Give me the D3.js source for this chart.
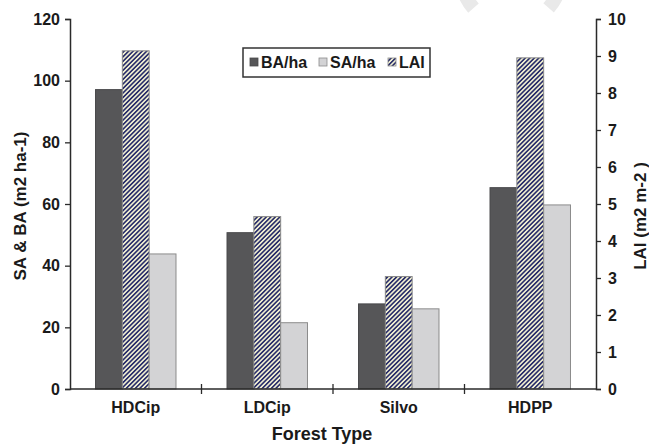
<!DOCTYPE html>
<html>
<head>
<meta charset="utf-8">
<script src="https://cdn.jsdelivr.net/npm/d3@7/dist/d3.min.js"></script>
<style>
  html, body { margin: 0; padding: 0; background: #fff; }
  svg text { font-family: "Liberation Sans", Arial, sans-serif; font-weight: bold; fill: #1a1a1a; }
</style>
</head>
<body>
<svg id="chart" width="649" height="444"></svg>
<script>
// ---- data ----
const categories = ["HDCip", "LDCip", "Silvo", "HDPP"];
const baPerHa = [97.1, 50.7, 27.6, 65.3];     // left axis (m2 ha-1)
const saPerHa = [43.8, 21.5, 26.0, 59.7];     // left axis (m2 ha-1)
const lai     = [9.14, 4.66, 3.04, 8.95];     // right axis (m2 m-2)
const leftTicks  = [0, 20, 40, 60, 80, 100, 120];
const rightTicks = [0, 1, 2, 3, 4, 5, 6, 7, 8, 9, 10];
const barOrder = ["BA", "LAI", "SA"];
const legendItems = [
  { key: "BA", label: "BA/ha" },
  { key: "SA", label: "SA/ha" },
  { key: "LAI", label: "LAI" }
];

// ---- layout ----
const svg = d3.select("#chart");
const pLeft = 70, pRight = 596, pTop = 19, pBottom = 389;

const x = d3.scaleBand().domain(categories).range([pLeft, pRight]).padding(0);
const bw = x.bandwidth();
const groupW = bw * 0.612;
const xs = d3.scaleBand().domain(barOrder).range([(bw - groupW) / 2, (bw + groupW) / 2]).padding(0);
const yL = d3.scaleLinear().domain([0, 120]).range([pBottom, pTop]);
const yR = d3.scaleLinear().domain([0, 10]).range([pBottom, pTop]);

// watermark-like faint arcs at top
const wm = d3.arc().innerRadius(43).outerRadius(57);
const wmG = svg.append("g").attr("transform", "translate(511,-25)");
[[1.7, 2.29], [3.99, 4.58]].forEach(([a0, a1]) => {
  wmG.append("path").attr("d", wm({ startAngle: a0, endAngle: a1 })).attr("fill", "#e9e9e9");
});

// hatch pattern
const defs = svg.append("defs");
const pat = defs.append("pattern")
  .attr("id", "hatch").attr("patternUnits", "userSpaceOnUse")
  .attr("width", 3.2).attr("height", 3.2)
  .attr("patternTransform", "rotate(45)");
pat.append("rect").attr("width", 3.2).attr("height", 3.2).attr("fill", "#efeed2");
pat.append("rect").attr("width", 1.6).attr("height", 3.2).attr("fill", "#2a2e6a");

const styles = {
  BA:  { fill: "#565658", stroke: "#4a4a4c" },
  SA:  { fill: "#d3d3d5", stroke: "#8c8c8c" },
  LAI: { fill: "url(#hatch)", stroke: "#8a8a8a" }
};

const rows = categories.map((c, i) => ({
  cat: c,
  bars: [
    { key: "BA", y: yL(baPerHa[i]) },
    { key: "LAI", y: yR(lai[i]) },
    { key: "SA", y: yL(saPerHa[i]) }
  ]
}));

const g = svg.append("g");
g.selectAll("g.grp").data(rows).join("g")
  .attr("class", "grp")
  .attr("transform", d => `translate(${x(d.cat)},0)`)
  .selectAll("rect").data(d => d.bars).join("rect")
  .attr("x", d => xs(d.key))
  .attr("width", xs.bandwidth())
  .attr("y", d => d.y)
  .attr("height", d => pBottom - d.y)
  .attr("fill", d => styles[d.key].fill)
  .attr("stroke", d => styles[d.key].stroke)
  .attr("stroke-width", 1);

// axes
const axisColor = "#2a2a2a";
const fontFam = "'Liberation Sans', Arial, sans-serif";
const axL = svg.append("g").attr("transform", `translate(${pLeft},0)`)
  .call(d3.axisLeft(yL).tickValues(leftTicks).tickSize(5).tickPadding(5));
const axR = svg.append("g").attr("transform", `translate(${pRight},0)`)
  .call(d3.axisRight(yR).tickValues(rightTicks).tickSize(5).tickPadding(7));
[axL, axR].forEach(a => {
  a.select(".domain").attr("stroke", axisColor).attr("stroke-width", 1.5);
  a.selectAll(".tick line").attr("stroke", axisColor).attr("stroke-width", 1.3);
  a.selectAll(".tick text").style("font-size", "16px").attr("fill", "#1a1a1a")
    .style("font-family", fontFam).style("font-weight", "bold");
});

// x axis
const axB = svg.append("g").attr("transform", `translate(0,${pBottom})`)
  .call(d3.axisBottom(x).tickSize(0).tickPadding(13));
axB.select(".domain").attr("d", `M${pLeft},0H${pRight}`).attr("stroke", axisColor).attr("stroke-width", 1.5);
axB.selectAll(".tick text").style("font-size", "16px").attr("fill", "#1a1a1a")
  .style("font-family", fontFam).style("font-weight", "bold");
// category separators
axB.selectAll("line.sep").data(categories.slice(1)).join("line")
  .attr("class", "sep")
  .attr("x1", d => x(d)).attr("x2", d => x(d))
  .attr("y1", -5).attr("y2", 5)
  .attr("stroke", axisColor).attr("stroke-width", 1.3);

// axis titles
svg.append("text").attr("transform", `translate(26,${(pTop + pBottom) / 2 + 2}) rotate(-90)`)
  .attr("text-anchor", "middle").style("font-size", "17px").text("SA & BA (m2 ha-1)");
svg.append("text").attr("transform", `translate(646,${(pTop + pBottom) / 2 + 12}) rotate(-90)`)
  .attr("text-anchor", "middle").style("font-size", "17px").text("LAI (m2 m-2 )");
svg.append("text").attr("x", 322).attr("y", 440)
  .attr("text-anchor", "middle").style("font-size", "18px").text("Forest Type");

// legend
const lg = svg.append("g");
lg.append("rect").attr("x", 243).attr("y", 48).attr("width", 187).attr("height", 29)
  .attr("fill", "#fff").attr("stroke", "#333").attr("stroke-width", 1.5);
const legX = { BA: 250, SA: 319, LAI: 388 };
legendItems.forEach(it => {
  lg.append("rect").attr("x", legX[it.key]).attr("y", 58).attr("width", 8).attr("height", 8)
    .attr("fill", styles[it.key].fill).attr("stroke", styles[it.key].stroke).attr("stroke-width", 0.8);
  lg.append("text").attr("x", legX[it.key] + 11).attr("y", 68)
    .style("font-size", "16px").text(it.label);
});
</script>
</body>
</html>
